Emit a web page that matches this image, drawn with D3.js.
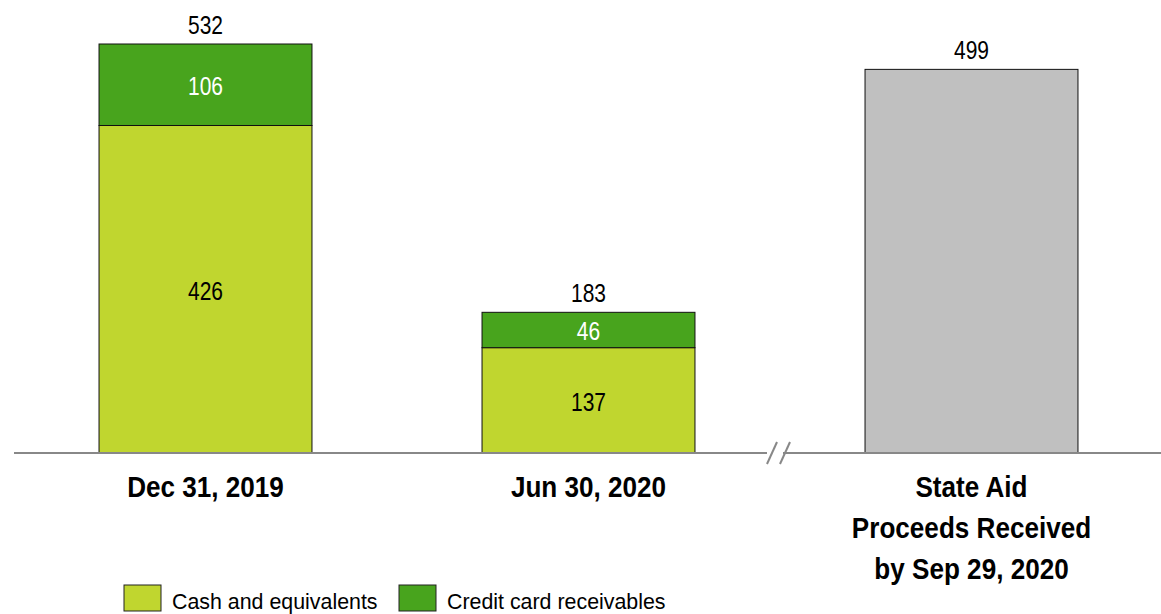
<!DOCTYPE html>
<html><head><meta charset="utf-8">
<script src="https://cdn.jsdelivr.net/npm/d3@7"></script>
<style>body{margin:0;background:#fff}svg{display:block}text{font-family:"Liberation Sans Narrow","Arial Narrow","Liberation Sans",sans-serif}</style>
</head><body><svg id="c" width="1161" height="614"></svg>
<script>
const categories = ["Dec 31, 2019", "Jun 30, 2020", "State Aid|Proceeds Received|by Sep 29, 2020"];
const cash = [426, 137, null];
const credit = [106, 46, null];
const stateAid = [null, null, 499];
const totals = [532, 183, 499];
const seriesNames = ["Cash and equivalents", "Credit card receivables"];
const colors = {cash:"#C0D62F", credit:"#48A41D", aid:"#C0C0C0"};

const svg = d3.select("#c");
const baseY = 453;
const x = d3.scaleBand().domain(d3.range(categories.length)).range([14, 1163]).paddingInner(0.444).paddingOuter(0.222);
const y = d3.scaleLinear().domain([0, 532]).range([baseY, 44]);

// narrow text helper (simulates a condensed face)
function ntext(sel, tx, ty, str, size, sx, opts = {}) {
  const t = sel.append("text").attr("transform", `translate(${tx},${ty}) scale(${sx},1)`)
    .attr("font-size", size).attr("text-anchor", opts.anchor || "middle").attr("fill", opts.fill || "#000");
  if (opts.bold) t.attr("font-weight", "bold");
  t.text(str);
  return t;
}

const g = svg.append("g");
categories.forEach((c, i) => {
  const bx = x(i), bw = x.bandwidth(), cx = bx + bw / 2;
  if (cash[i] != null) {
    g.append("rect").attr("x", bx).attr("y", y(cash[i])).attr("width", bw).attr("height", y(0) - y(cash[i]))
      .attr("fill", colors.cash).attr("stroke", "#111").attr("stroke-width", 1);
    g.append("rect").attr("x", bx).attr("y", y(cash[i] + credit[i])).attr("width", bw).attr("height", y(cash[i]) - y(cash[i] + credit[i]))
      .attr("fill", colors.credit).attr("stroke", "#111").attr("stroke-width", 1);
    ntext(g, cx, (y(0) + y(cash[i])) / 2 + 11, cash[i], 25, 0.84);
    ntext(g, cx, (y(cash[i]) + y(cash[i] + credit[i])) / 2 + 10, credit[i], 25, 0.84, {fill: "#fff"});
  }
  if (stateAid[i] != null) {
    g.append("rect").attr("x", bx).attr("y", y(stateAid[i])).attr("width", bw).attr("height", y(0) - y(stateAid[i]))
      .attr("fill", colors.aid).attr("stroke", "#111").attr("stroke-width", 1);
  }
  ntext(g, cx, y(totals[i]) - 10, totals[i], 25, 0.84);
  c.split("|").forEach((l, k) => ntext(g, cx, 497 + k * 41, l, 29, 0.9, {bold: true}));
});

// axis line with break
const brk = (x(1) + x.bandwidth() + x(2)) / 2;
svg.append("line").attr("x1", 14).attr("x2", brk - 13).attr("y1", baseY).attr("y2", baseY).attr("stroke", "#888").attr("stroke-width", 2);
svg.append("line").attr("x1", brk + 3).attr("x2", 1161).attr("y1", baseY).attr("y2", baseY).attr("stroke", "#888").attr("stroke-width", 2);
[-8, 5].forEach(o => svg.append("line").attr("x1", brk + o - 5).attr("y1", baseY + 11).attr("x2", brk + o + 5).attr("y2", baseY - 11)
  .attr("stroke", "#888").attr("stroke-width", 2));

// legend
const leg = [{n: seriesNames[0], c: colors.cash, x: 124}, {n: seriesNames[1], c: colors.credit, x: 399}];
leg.forEach(d => {
  svg.append("rect").attr("x", d.x).attr("y", 585).attr("width", 37).attr("height", 26).attr("fill", d.c).attr("stroke", "#222").attr("stroke-width", 1);
  ntext(svg, d.x + 48, 609, d.n, 23, 0.93, {anchor: "start"});
});
</script></body></html>
